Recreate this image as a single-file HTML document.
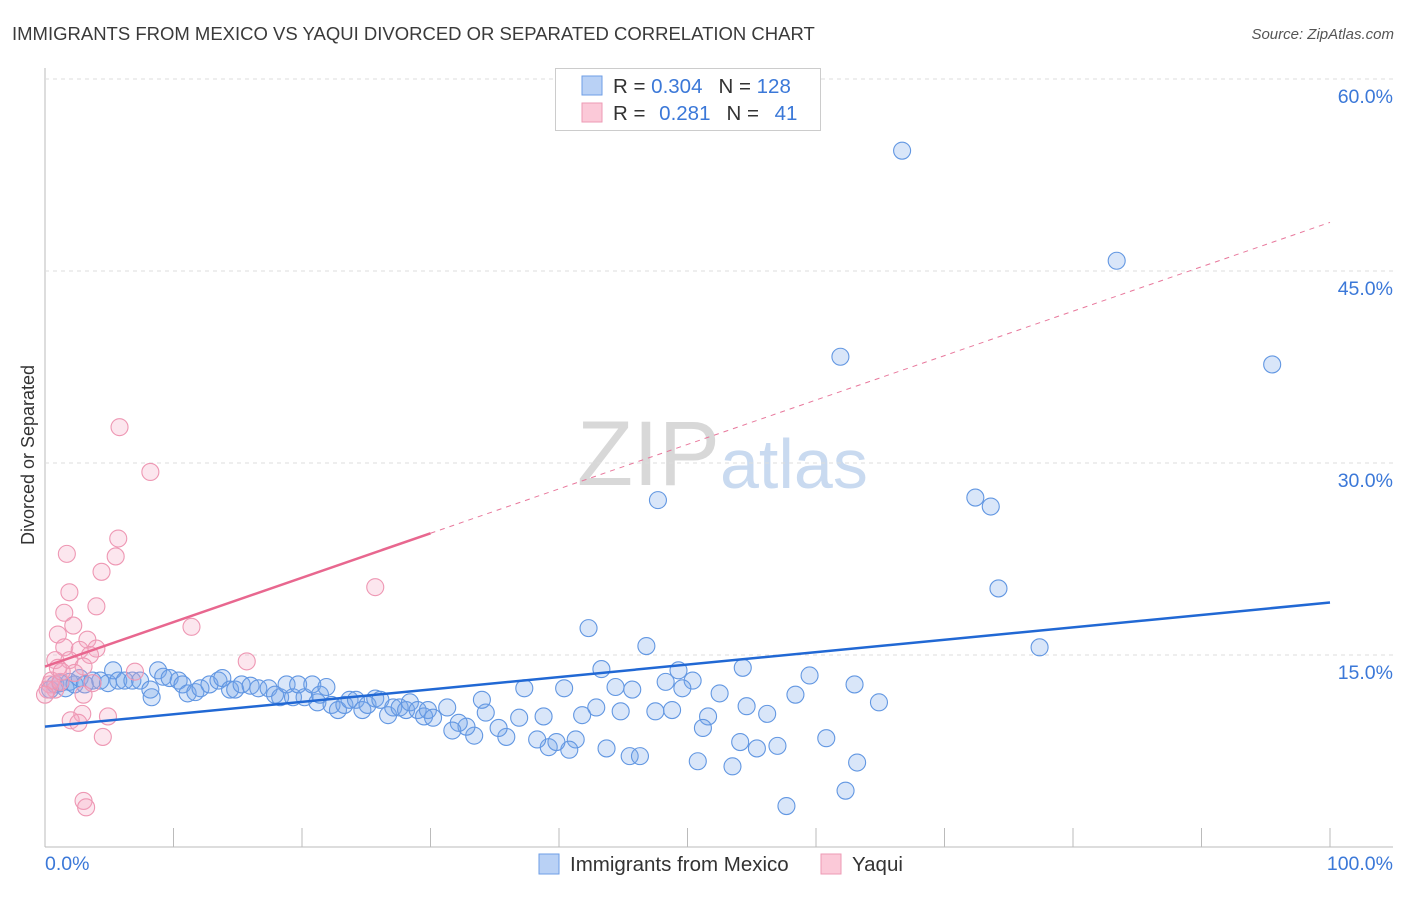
<!DOCTYPE html>
<html><head><meta charset="utf-8"><style>
body{margin:0;background:#fff;font-family:"Liberation Sans",sans-serif;}
svg text{font-family:"Liberation Sans",sans-serif;}
</style></head><body>
<svg id="chart" width="1406" height="892">
<text x="12" y="40" font-size="18.5" fill="#3a3a3a">IMMIGRANTS FROM MEXICO VS YAQUI DIVORCED OR SEPARATED CORRELATION CHART</text>
<text x="1394" y="39" font-size="15" fill="#555" font-style="italic" text-anchor="end">Source: ZipAtlas.com</text>
<text x="720" y="485" font-size="92" fill="#d8d8d8" text-anchor="end" font-family="Liberation Serif">ZIP</text>
<text x="720" y="488" font-size="70" fill="#c9daf0">atlas</text>
<text transform="translate(34,455) rotate(-90)" font-size="18" fill="#333" text-anchor="middle">Divorced or Separated</text>
<g id="grid"></g><g id="marks"></g>
<g>
<rect x="555.5" y="68.5" width="265" height="62" fill="#fff" stroke="#ccc"/>
<rect x="582" y="76" width="20" height="19" fill="#b9d1f5" stroke="#6e9ee6"/>
<rect x="582" y="103" width="20" height="19" fill="#fbc9d8" stroke="#ee9ab4"/>
<text x="613" y="93" font-size="20.5" fill="#333">R = <tspan fill="#3b78d8">0.304</tspan><tspan dx="16">N = </tspan><tspan fill="#3b78d8">128</tspan></text>
<text x="613" y="120" font-size="20.5" fill="#333">R = <tspan dx="8" fill="#3b78d8">0.281</tspan><tspan dx="16">N = </tspan><tspan dx="10" fill="#3b78d8">41</tspan></text>
</g>
<g>
<rect x="539" y="854" width="20" height="20" fill="#b9d1f5" stroke="#6e9ee6"/>
<text x="570" y="871" font-size="20.5" fill="#333">Immigrants from Mexico</text>
<rect x="821" y="854" width="20" height="20" fill="#fbc9d8" stroke="#ee9ab4"/>
<text x="852" y="871" font-size="20.5" fill="#333">Yaqui</text>
</g>
</svg>
<script>
const yTicks=[15,30,45,60];
const yTickLabels=["15.0%","30.0%","45.0%","60.0%"];
const xTickLabels=["0.0%","100.0%"];
const blueX=[66.7,83.4,61.9,95.5,47.7,72.4,73.6,74.2,42.3,77.4,46.8,43.3,49.3,54.3,59.5,50.4,48.3,63.0,37.3,40.4,44.4,45.7,49.6,52.5,58.4,64.9,54.6,56.2,47.5,48.8,44.8,42.9,41.8,51.6,38.8,36.9,34.3,34.0,31.3,51.2,60.8,54.1,55.4,57.0,43.7,45.5,46.3,50.8,53.5,63.2,62.3,57.7,41.3,40.8,39.2,38.3,39.8,35.9,35.3,33.4,32.8,32.2,31.7,
0.4,0.8,1.2,1.6,1.9,2.3,2.7,3.1,3.7,4.3,4.9,5.3,5.7,6.2,6.8,7.4,8.2,8.3,8.8,9.2,9.7,10.4,10.7,11.1,11.7,12.1,12.8,13.5,13.8,14.4,14.8,15.3,16.0,16.6,17.4,17.9,18.3,18.8,19.3,19.7,20.2,20.8,21.2,21.4,21.9,22.3,22.8,23.3,23.7,24.2,24.7,25.1,25.7,26.1,26.7,27.1,27.6,28.1,28.4,29.0,29.5,29.8,30.2];
const blueY=[54.4,45.8,38.3,37.7,27.1,27.3,26.6,20.2,17.1,15.6,15.7,13.9,13.8,14.0,13.4,13.0,12.9,12.7,12.4,12.4,12.5,12.3,12.4,12.0,11.9,11.3,11.0,10.4,10.6,10.7,10.6,10.9,10.3,10.2,10.2,10.1,10.5,11.5,10.9,9.3,8.5,8.2,7.7,7.9,7.7,7.1,7.1,6.7,6.3,6.6,4.4,3.2,8.4,7.6,7.8,8.4,8.2,8.6,9.3,8.7,9.4,9.7,9.1,
12.3,12.7,12.8,12.4,12.9,12.7,13.2,12.7,13.0,13.0,12.8,13.8,13.0,13.0,13.0,13.0,12.3,11.7,13.8,13.3,13.2,13.0,12.7,12.0,12.1,12.4,12.7,13.0,13.2,12.3,12.3,12.7,12.6,12.4,12.4,11.9,11.7,12.7,11.7,12.7,11.7,12.7,11.3,11.9,12.5,11.1,10.7,11.1,11.5,11.5,10.7,11.1,11.6,11.5,10.3,10.9,10.9,10.7,11.3,10.7,10.2,10.7,10.1];
const pinkX=[5.8,8.2,5.7,1.7,5.5,4.4,1.9,25.7,4.0,1.5,2.2,11.4,1.0,3.3,1.5,4.0,2.7,3.5,0.8,1.9,15.7,3.0,1.0,7.0,2.3,0.4,0.8,3.0,2.9,2.0,2.6,4.9,4.5,3.0,3.2,0.2,0.5,1.2,0,1.3,3.7];
const pinkY=[32.8,29.3,24.1,22.9,22.7,21.5,19.9,20.3,18.8,18.3,17.3,17.2,16.6,16.2,15.6,15.5,15.4,15.0,14.6,14.6,14.5,14.1,14.0,13.7,13.6,12.7,12.3,11.9,10.4,9.9,9.7,10.2,8.6,3.6,3.1,12.3,13.0,12.9,11.9,13.7,12.8];
const blueTrend=[9.4,19.1];
const pinkTrend=[14.1,48.8];
const pinkSolidEnd=30;
const X0=45,X1=1330,Y0=847,YSCALE=12.8;
const sx=v=>X0+v*(X1-X0)/100, sy=v=>Y0-v*YSCALE;
const NS="http://www.w3.org/2000/svg";
function mk(tag,attrs,parent){const e=document.createElementNS(NS,tag);for(const k in attrs)e.setAttribute(k,attrs[k]);parent.appendChild(e);return e;}
const grid=document.getElementById('grid'), marks=document.getElementById('marks');
const ax=mk('line',{x1:X0,y1:68,x2:X0,y2:Y0,stroke:'#bbb','stroke-width':1},grid);


const bx=mk('line',{x1:X0,y1:Y0,x2:1393,y2:Y0,stroke:'#bbb','stroke-width':1},grid);


for(let i=0;i<=10;i++){const t=mk('line',{x1:sx(i*10),y1:828,x2:sx(i*10),y2:Y0,stroke:'#bbb'},grid);

}
yTicks.forEach((v,i)=>{const g=mk('line',{x1:X0,y1:sy(v),x2:1393,y2:sy(v),stroke:'#ddd','stroke-dasharray':'4,4'},grid);


const t=mk('text',{x:1393,y:sy(v)+24,'font-size':19.5,fill:'#3b78d8','text-anchor':'end'},grid);t.textContent=yTickLabels[i];

});
const xl0=mk('text',{x:45,y:870,'font-size':19.5,fill:'#3b78d8'},grid);xl0.textContent=xTickLabels[0];


const xl1=mk('text',{x:1393,y:870,'font-size':19.5,fill:'#3b78d8','text-anchor':'end'},grid);xl1.textContent=xTickLabels[1];


blueX.forEach((v,i)=>{const c=mk('circle',{cx:sx(v),cy:sy(blueY[i]),r:8.5,fill:'rgba(120,165,235,0.28)',stroke:'#6297e2','stroke-width':1.1},marks);

});
pinkX.forEach((v,i)=>{const c=mk('circle',{cx:sx(v),cy:sy(pinkY[i]),r:8.5,fill:'rgba(245,165,195,0.28)',stroke:'#ee97b3','stroke-width':1.1},marks);

});
const pAt=x=>pinkTrend[0]+(pinkTrend[1]-pinkTrend[0])*x/100;
const pd=mk('line',{x1:sx(pinkSolidEnd),y1:sy(pAt(pinkSolidEnd)),x2:sx(100),y2:sy(pinkTrend[1]),stroke:'#e8789c','stroke-width':1,'stroke-dasharray':'5,5'},marks);


const ps=mk('line',{x1:sx(0),y1:sy(pinkTrend[0]),x2:sx(pinkSolidEnd),y2:sy(pAt(pinkSolidEnd)),stroke:'#e8678f','stroke-width':2.5},marks);


const bl=mk('line',{x1:sx(0),y1:sy(blueTrend[0]),x2:sx(100),y2:sy(blueTrend[1]),stroke:'#2168d4','stroke-width':2.5},marks);


</script>
</body></html>
